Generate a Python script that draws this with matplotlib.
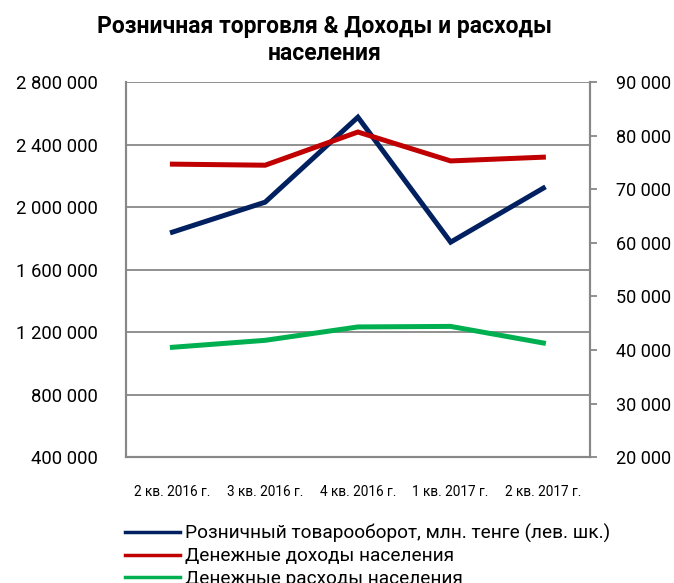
import matplotlib
matplotlib.use('Agg')
import matplotlib.pyplot as plt
from matplotlib.ticker import FuncFormatter

plt.rcParams['font.family'] = ['Roboto', 'DejaVu Sans']

quarters = ['2 кв. 2016 г.', '3 кв. 2016 г.', '4 кв. 2016 г.', '1 кв. 2017 г.', '2 кв. 2017 г.']
retail = [1840000, 2032000, 2576000, 1776000, 2122000]
income = [74700, 74500, 80700, 75300, 76000]
spending = [40500, 41800, 44300, 44400, 41300]

labels = ['Розничный товарооборот, млн. тенге (лев. шк.)',
          'Денежные доходы населения',
          'Денежные расходы населения']
colors = ['#002060', '#C00000', '#00B050']
grey = '#888888'

def spaced(v, pos):
    return f'{v:,.0f}'.replace(',', ' ')

fig = plt.figure(figsize=(6.74, 5.83), dpi=100)
ax = fig.add_axes([0.187, 0.216, 0.688, 0.643])
ax2 = ax.twinx()

x = range(len(quarters))
l1, = ax.plot(x, retail, color=colors[0], lw=3.6, solid_joinstyle='miter', zorder=3)
l2, = ax2.plot(x, income, color=colors[1], lw=3.6, solid_joinstyle='miter')
l3, = ax2.plot(x, spending, color=colors[2], lw=3.6, solid_joinstyle='miter')

ax.set_xlim(-0.5, len(quarters) - 0.5)
ax.set_ylim(400000, 2800000)
ax.set_yticks(range(400000, 2800001, 400000))
ax.yaxis.set_major_formatter(FuncFormatter(spaced))
ax2.set_ylim(20000, 90000)
ax2.set_yticks(range(20000, 90001, 10000))
ax2.yaxis.set_major_formatter(FuncFormatter(spaced))

ax.set_xticks(list(x))
ax.set_xticklabels(quarters, fontsize=9.8)
ax.tick_params(axis='x', length=0, pad=20)
ax.tick_params(axis='y', length=0, pad=20, labelsize=13.3)
ax2.tick_params(axis='y', length=5, width=1.3, color=grey, pad=14, labelsize=13)

ax.grid(axis='y', color=grey, lw=1.3)
ax.set_axisbelow(True)
for a in (ax, ax2):
    a.spines['top'].set_visible(False)
    for s in ('left', 'right', 'bottom'):
        a.spines[s].set_color(grey)
        a.spines[s].set_linewidth(1.5)

fig.text(0.481, 0.931, 'Розничная торговля & Доходы и расходы\nнаселения',
         ha='center', va='center', fontsize=16.5, fontweight='bold', linespacing=1.25)

# third row is cut by the bottom edge, like in the source picture
leg = fig.legend([l1, l2, l3], labels, loc='upper left', bbox_to_anchor=(0.186, 0.101),
                 frameon=False, fontsize=13.7, handlelength=2.85, handletextpad=0.3,
                 labelspacing=0.22, borderaxespad=0, borderpad=0)
for ln in leg.get_lines():
    ln.set_linewidth(2.5)

fig.savefig('out.png', dpi=100)
